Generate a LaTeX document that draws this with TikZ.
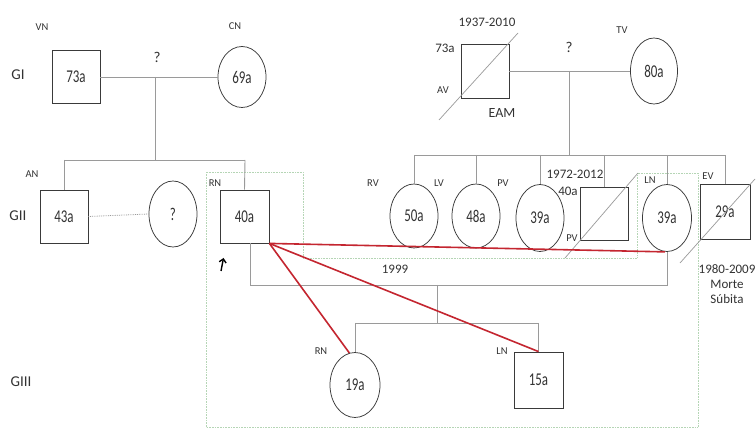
\documentclass[tikz,border=0pt]{standalone}
\usepackage{fontspec}
\setmainfont{Carlito}
\usetikzlibrary{shapes.geometric,arrows.meta}
\definecolor{txt}{HTML}{333333}
\definecolor{ln}{HTML}{9A9A9A}
\definecolor{outl}{HTML}{3A3A3A}
\definecolor{redl}{HTML}{C42630}
\definecolor{grn}{HTML}{B5D5B5}
\newcommand{\agetxt}[1]{\scalebox{0.72}[1]{\fontsize{18}{18}\selectfont #1}}
\tikzset{
  male/.style={draw=outl, line width=0.85pt, rectangle, minimum width=48pt, minimum height=53pt, inner sep=0pt, text=txt},
  female/.style={draw=outl, line width=0.75pt, ellipse, minimum width=48pt, minimum height=64pt, inner sep=0pt, text=txt},
  rel/.style={draw=ln, line width=0.9pt},
  redrel/.style={draw=redl, line width=1.6pt},
  slash/.style={draw=ln, line width=0.7pt},
  lbl/.style={text=txt, font=\fontsize{10.5}{10.5}\selectfont, inner sep=0pt},
  mlbl/.style={text=txt, font=\fontsize{13}{13}\selectfont, inner sep=0pt},
  glbl/.style={text=txt, font=\fontsize{15}{15}\selectfont, inner sep=0pt},
  greenbox/.style={draw=grn, line width=0.6pt, densely dotted}
}
\begin{document}
\begin{tikzpicture}[x=1pt,y=-1pt]
\useasboundingbox (0,0) rectangle (756,430);
\fill[white] (0,0) rectangle (756,430);

% green dotted frame
\draw[greenbox] (206,427) -- (206,172) -- (303,172) -- (303,258) -- (637,258) -- (637,173) -- (698,173) -- (698,427) -- cycle;

% generation labels
\node[glbl] (gI) at (18,75) {GI};
\node[glbl] (gII) at (18,216) {GII};
\node[glbl] (gIII) at (21,382) {GIII};

% ---------- GI ----------
\node[male] (VN) at (76,77) {\agetxt{73a}};
\node[female, minimum height=61pt] (CN) at (242,77) {\agetxt{69a}};
\node[lbl] (VNl) at (42,27) {VN};
\node[lbl] (CNl) at (235,26) {CN};
\node[mlbl, font=\fontsize{15}{15}\selectfont] (q1) at (157,57) {?};

\node[male, minimum height=54pt] (AV) at (485,71) {};
\node[female, minimum width=47pt, minimum height=66pt] (TV) at (654,71) {\agetxt{80a}};
\coordinate (avs1) at (439,120);
\coordinate (avs2) at (518,33);
\draw[slash] (avs1) -- (avs2);
\node[mlbl] (AVy) at (487,22) {1937-2010};
\node[mlbl] (AVa) at (445,48) {73a};
\node[lbl] (AVl) at (443,90) {AV};
\node[mlbl, font=\fontsize{14}{14}\selectfont] (EAM) at (502,113) {EAM};
\node[lbl] (TVl) at (622,30) {TV};
\node[mlbl, font=\fontsize{15}{15}\selectfont] (q2) at (569,47) {?};

% GI marriages
\draw[rel] (VN.east) -- (CN.west);
\coordinate (m1) at (155,77);
\coordinate (s1) at (155,160);
\draw[rel] (m1) -- (s1);
\draw[rel] (AV.east) -- (TV.west);
\coordinate (m2) at (569,71);
\coordinate (s2) at (569,155);
\draw[rel] (m2) -- (s2);

% ---------- GII left ----------
\node[male] (AN) at (64,216.5) {\agetxt{43a}};
\node[female, minimum height=66pt] (Q) at (173,214) {\agetxt{?}};
\node[male, minimum width=49pt] (RN) at (244.5,216.5) {\agetxt{40a}};
\node[lbl] (ANl) at (32,174) {AN};
\node[lbl] (RNl) at (215,183) {RN};
\coordinate (sl) at (64,160);
\coordinate (sr) at (245,160);
\draw[rel] (sl) -- (sr);
\draw[rel] (sl) -- (AN.north);
\draw[rel] (sr) -- (RN.north);
\draw[ln, line width=0.8pt, densely dotted] (AN.east) -- (Q.west);
% proband arrow
\coordinate (pa1) at (221,271);
\coordinate (pa2) at (223.5,258);
\draw[black, line width=1.4pt, -{Straight Barb[length=3.5pt,width=7pt]}] (pa1) -- (pa2);

% ---------- GII right ----------
\node[female] (RV) at (414,216) {\agetxt{50a}};
\node[female] (LV) at (476,216) {\agetxt{48a}};
\node[female, minimum height=67pt] (PV) at (540,218) {\agetxt{39a}};
\node[male] (PVs) at (604,213.5) {};
\node[female, minimum width=49pt, minimum height=67pt] (LN) at (667,218) {\agetxt{39a}};
\node[male, minimum width=50pt, minimum height=55pt] (EV) at (725,212) {\agetxt{29a}};
\node[lbl] (RVl) at (373,183) {RV};
\node[lbl] (LVl) at (439,183) {LV};
\node[lbl] (PVl) at (503,183) {PV};
\node[mlbl] (PVsy) at (575,174) {1972-2012};
\node[mlbl] (PVsa) at (568,191) {40a};
\node[lbl] (PVsl) at (572,238) {PV};
\node[lbl] (LNl) at (650,180) {LN};
\node[lbl] (EVl) at (708,176) {EV};
\node[mlbl] (EVy) at (727,269) {1980-2009};
\node[mlbl] (EVm) at (727,284) {Morte};
\node[mlbl] (EVs) at (727,299) {Súbita};
\coordinate (pvs1) at (565,258);
\coordinate (pvs2) at (638,173);
\draw[slash] (pvs1) -- (pvs2);
\coordinate (evs1) at (680,263);
\coordinate (evs2) at (755,179);
\draw[slash] (evs1) -- (evs2);

\coordinate (sbl) at (RV.north |- s2);
\coordinate (sbr) at (EV.north |- s2);
\draw[rel] (sbl) -- (sbr);
\draw[rel] (sbl) -- (RV.north);
\draw[rel] (LV.north |- s2) -- (LV.north);
\draw[rel] (PV.north |- s2) -- (PV.north);
\draw[rel] (PVs.north |- s2) -- (PVs.north);
\draw[rel] (LN.north |- s2) -- (LN.north);
\draw[rel] (sbr) -- (EV.north);

% RN x LN marriage
\coordinate (rm0) at (250,243);
\coordinate (rm1) at (250,285);
\coordinate (rm2) at (667,285);
\draw[rel] (rm0) -- (rm1) -- (rm2) -- (LN.south);
\node[mlbl] (yr) at (395,269) {1999};
\coordinate (m3) at (437,285);
\coordinate (s3) at (437,323);
\draw[rel] (m3) -- (s3);

% ---------- GIII ----------
\node[female, minimum width=50pt, minimum height=65pt] (C19) at (355,385) {\agetxt{19a}};
\node[male, minimum width=49pt, minimum height=56pt] (S15) at (538.5,380) {\agetxt{15a}};
\node[lbl] (C19l) at (321,351) {RN};
\node[lbl] (S15l) at (502,351) {LN};
\coordinate (gl) at (C19.north |- s3);
\coordinate (gr) at (S15.north |- s3);
\draw[rel] (gl) -- (gr);
\draw[rel] (gl) -- (C19.north);
\draw[rel] (gr) -- (S15.north);

% red lines
\draw[redrel] (RN.south east) -- ([xshift=-2pt]LN.south);
\draw[redrel] (RN.south east) -- (C19.100);
\draw[redrel] (RN.south east) -- (S15.north);
\end{tikzpicture}
\end{document}
